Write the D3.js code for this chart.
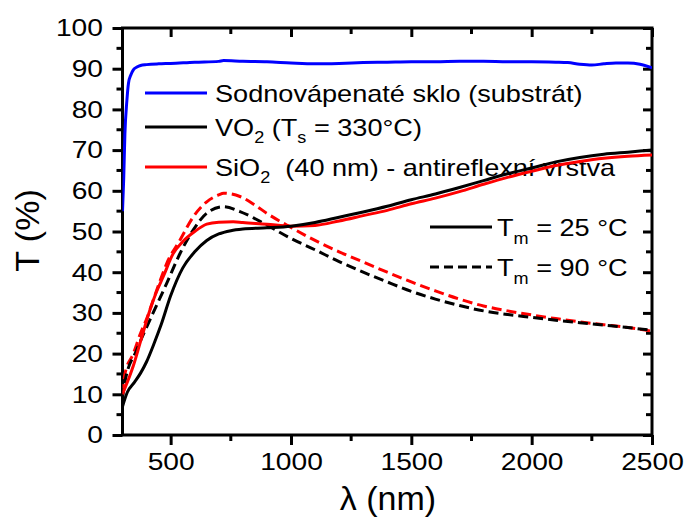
<!DOCTYPE html>
<html><head><meta charset="utf-8">
<script src="https://cdn.jsdelivr.net/npm/d3@7"></script>
<style>body{margin:0;background:#fff}svg{display:block}text{font-family:"Liberation Sans",Arial,sans-serif;fill:#000}</style>
</head><body><svg id="c" width="689" height="517"></svg>
<script>
const xTicks = [500, 1000, 1500, 2000, 2500];
const yTicks = [0, 10, 20, 30, 40, 50, 60, 70, 80, 90, 100];

const glassLambda = [300,305,310,318,325,335,345,360,375,400,450,500,600,700,720,800,900,1000,1100,1200,1300,1400,1500,1600,1700,1800,1900,2000,2100,2150,2200,2250,2300,2350,2400,2450,2500];
const glassT = [55,63,74,82,86.5,88.5,89.7,90.4,90.8,91,91.2,91.3,91.6,91.8,92.0,91.8,91.7,91.4,91.2,91.3,91.5,91.6,91.7,91.7,91.8,91.8,91.7,91.7,91.6,91.5,91.1,90.9,91.2,91.4,91.4,91.1,90.2];

const vo2ColdLambda = [300,320,350,375,400,430,460,500,550,600,650,700,750,800,900,1000,1100,1200,1300,1400,1500,1600,1700,1800,1900,2000,2100,2200,2300,2400,2500];
const vo2ColdT = [7,10.5,13,15.2,18,22.3,27,34.2,41,45,47.8,49.4,50.2,50.6,50.9,51.3,52.2,53.5,54.8,56.2,57.8,59.2,60.8,62.5,64.2,65.6,67.1,68.2,69,69.5,70];

const sio2ColdLambda = [300,310,330,345,375,414,440,470,510,550,600,650,700,760,800,900,1000,1100,1200,1300,1400,1500,1600,1700,1800,1900,2000,2100,2200,2300,2400,2500];
const sio2ColdT = [10,11.5,14.5,17,23,30.7,35,39,44.5,47.5,50,51.8,52.3,52.4,52.2,51.8,51.3,51.5,52.6,53.9,55.2,56.8,58.2,59.8,61.6,63.3,64.8,66.2,67.2,68,68.5,68.8];

const vo2HotLambda = [300,310,359,414,484,539,594,650,719,788,899,1000,1100,1200,1300,1400,1500,1600,1700,1800,1900,2000,2100,2200,2300,2400,2500];
const vo2HotT = [9,13,20.9,28.3,37.3,44.6,50.4,54.5,56.1,54.9,51.6,48.3,45.5,42.6,40,37.6,35.3,33.4,31.8,30.5,29.6,28.9,28.2,27.6,27,26.4,25.7];

const sio2HotLambda = [300,310,345,375,400,428,460,484,539,594,650,700,720,788,850,899,1000,1100,1200,1300,1400,1500,1600,1700,1800,1900,2000,2100,2200,2300,2400,2500];
const sio2HotT = [10,15,20,25,28.5,33.2,38.5,42.2,47.9,53.6,57.3,59,59.4,58.6,56.5,54.5,51,47.8,45,42.5,40,37.6,35.4,33.4,31.7,30.5,29.5,28.6,27.8,27.1,26.4,25.5];

const legendLabels = ["Sodnovápenaté sklo (substrát)", "VO", "SiO"];

const SX = 1.15;
const svg = d3.select("#c");
svg.append("rect").attr("width",689).attr("height",517).attr("fill","#fff");
const x = d3.scaleLinear().domain([300,2500]).range([122.5,652]);
const y = d3.scaleLinear().domain([0,100]).range([435,28]);
const minorX = d3.range(250,2501,250).filter(v=>v>=300 && !xTicks.includes(v));
const minorY = d3.range(5,100,10);

function styleAxis(g){
  g.select(".domain").remove();
  g.selectAll("line").attr("stroke","#000").attr("stroke-width",3);
  g.selectAll("text").attr("font-size",24.5).style("font-family","Liberation Sans, Arial, sans-serif")
    .attr("transform",`scale(${SX},1)`);
}
function minor(tx, ty, data, horiz, len){
  svg.append("g").attr("transform",`translate(${tx},${ty})`).selectAll("line").data(data).join("line")
    .attr("x1",d=>horiz?x(d):0).attr("x2",d=>horiz?x(d):len)
    .attr("y1",d=>horiz?0:y(d)).attr("y2",d=>horiz?len:y(d))
    .attr("stroke","#000").attr("stroke-width",3);
}
// bottom
styleAxis(svg.append("g").attr("transform",`translate(0,435)`)
  .call(d3.axisBottom(x).tickValues(xTicks).tickSize(10).tickPadding(7.5).tickFormat(d3.format("d"))));
minor(0,435,minorX,true,6);
// top (inward)
styleAxis(svg.append("g").attr("transform",`translate(0,28)`)
  .call(d3.axisBottom(x).tickValues(xTicks).tickSize(9).tickFormat("")));
minor(0,28,minorX,true,6);
// left
styleAxis(svg.append("g").attr("transform",`translate(122.5,0)`)
  .call(d3.axisLeft(y).tickValues(yTicks).tickSize(10).tickPadding(7)));
minor(122.5,0,minorY,false,-6);
// right (inward)
styleAxis(svg.append("g").attr("transform",`translate(652,0)`)
  .call(d3.axisLeft(y).tickValues(yTicks).tickSize(9).tickFormat("")));
minor(652,0,minorY,false,-6);
// frame
svg.append("rect").attr("x",122.5).attr("y",28).attr("width",652-122.5).attr("height",435-28)
  .attr("fill","none").attr("stroke","#000").attr("stroke-width",3);

// titles
svg.append("text").attr("x",388).attr("y",510).attr("text-anchor","middle").attr("font-size",34).text("λ (nm)");
svg.append("text").attr("transform","translate(39,230.5) rotate(-90)").attr("text-anchor","middle").attr("font-size",34).text("T (%)");

// legend
const lg = svg.append("g");
function ltext(px,py){ return lg.append("text").attr("transform",`translate(${px},${py}) scale(1.13,1)`).attr("font-size",24); }
const leg = [{c:"#0000ff",y:93},{c:"#000",y:127},{c:"#ff0000",y:167}];
leg.forEach(l=>lg.append("line").attr("x1",145).attr("x2",207).attr("y1",l.y).attr("y2",l.y).attr("stroke",l.c).attr("stroke-width",3));
ltext(215,102).text(legendLabels[0]);
const t2 = ltext(215,136);
t2.append("tspan").text(legendLabels[1]);
t2.append("tspan").attr("font-size",16).attr("dy",7).text("2");
t2.append("tspan").attr("dy",-7).text(" (T");
t2.append("tspan").attr("font-size",16).attr("dy",7).text("s");
t2.append("tspan").attr("dy",-7).text(" = 330°C)");
const t3 = ltext(215,176);
t3.append("tspan").text(legendLabels[2]);
t3.append("tspan").attr("font-size",16).attr("dy",7).text("2");
t3.append("tspan").attr("dy",-7).text("\u00a0 (40 nm) - antireflexní vrstva");

const leg2 = [{y:227,dash:null,t:"25 °C"},{y:267,dash:"9,5",t:"90 °C"}];
leg2.forEach(l=>{
  lg.append("line").attr("x1",430).attr("x2",492).attr("y1",l.y).attr("y2",l.y).attr("stroke","#000").attr("stroke-width",3).attr("stroke-dasharray",l.dash);
  const t = ltext(497,l.y+9);
  t.append("tspan").text("T");
  t.append("tspan").attr("font-size",16).attr("dy",8).text("m");
  t.append("tspan").attr("dy",-8).text(" = "+l.t);
});

// curves
const line = d3.line().x(d=>x(d[0])).y(d=>y(d[1])).curve(d3.curveMonotoneX);
svg.append("clipPath").attr("id","cp").append("rect").attr("x",122.5).attr("y",28).attr("width",652-122.5).attr("height",407);
const series = [
  {l:glassLambda,v:glassT,c:"#0000ff",dash:null},
  {l:sio2HotLambda,v:sio2HotT,c:"#ff0000",dash:"10,5"},
  {l:vo2HotLambda,v:vo2HotT,c:"#000",dash:"10,5"},
  {l:sio2ColdLambda,v:sio2ColdT,c:"#ff0000",dash:null},
  {l:vo2ColdLambda,v:vo2ColdT,c:"#000",dash:null},
];
const cg = svg.append("g").attr("clip-path","url(#cp)");
series.forEach(s=>{
  cg.append("path").datum(s.l.map((d,i)=>[d,s.v[i]])).attr("d",line)
    .attr("fill","none").attr("stroke",s.c).attr("stroke-width",3).attr("stroke-dasharray",s.dash);
});
</script></body></html>
